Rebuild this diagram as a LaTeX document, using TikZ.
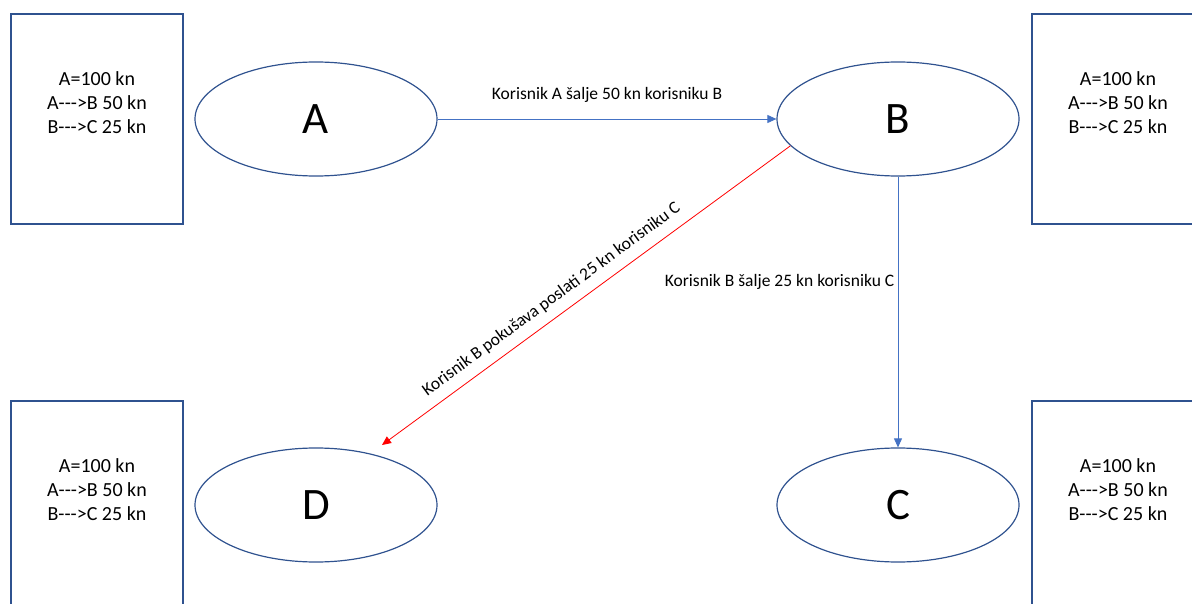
\documentclass[tikz,border=0pt]{standalone}
\usepackage{fontspec}
\setmainfont{Carlito}
\usepackage{tikz}
\usetikzlibrary{arrows.meta,shapes}
\definecolor{ledgerblue}{HTML}{2F528F}
\definecolor{arrowblue}{HTML}{4472C4}

\begin{document}
\begin{tikzpicture}
[x=1pt,y=-1pt]
\tikzset{
	user/.style = {ellipse, draw = ledgerblue, line width = 1.2pt, minimum width = 242pt, minimum height = 114pt, inner sep = 0, font = \fontsize{45}{54}\selectfont},
	ledger/.style = {rectangle, draw = ledgerblue, line width = 1.3pt, minimum width = 172pt, minimum height = 210pt, inner sep = 0},
	ledgertext/.style = {align = center, font = \fontsize{20}{24}\selectfont},
	send/.style = {draw = arrowblue, line width = 0.8pt, -{Triangle[length=9pt,width=8pt]}},
	fail/.style = {draw = red, line width = 0.8pt, -{Triangle[length=9pt,width=8pt]}},
	msg/.style = {font = \fontsize{17.5}{21}\selectfont}
}

\useasboundingbox (0,0) rectangle (1192,604);
\clip (0,0) rectangle (1192,604);

\node(ledgerA) [ledger] at (97,119) {};
\node(ledgerB) [ledger] at (1118,119) {};
\node(ledgerD) [ledger] at (97,506) {};
\node(ledgerC) [ledger] at (1118,506) {};

\node(textA) [ledgertext] at ([yshift=-89pt]ledgerA.north) {A=100 kn\\A-{}-{}->B 50 kn\\B-{}-{}->C 25 kn};
\node(textB) [ledgertext] at ([yshift=-89pt]ledgerB.north) {A=100 kn\\A-{}-{}->B 50 kn\\B-{}-{}->C 25 kn};
\node(textD) [ledgertext] at ([yshift=-89pt]ledgerD.north) {A=100 kn\\A-{}-{}->B 50 kn\\B-{}-{}->C 25 kn};
\node(textC) [ledgertext] at ([yshift=-89pt]ledgerC.north) {A=100 kn\\A-{}-{}->B 50 kn\\B-{}-{}->C 25 kn};

\node(A) [user] at (316,119) {A};
\node(B) [user] at (898,119) {B};
\node(D) [user] at (316,505) {D};
\node(C) [user] at (898,505) {C};

\coordinate (dtip) at (382,445);

\draw [send] (A) to node [msg, midway, above = 13pt]{Korisnik A šalje 50 kn korisniku B} (B);
\draw [send] (B) to node [msg, pos = 0.39, left]{Korisnik B šalje 25 kn korisniku C} (C);
\draw [fail] (B.194) to node [msg, pos = 0.56, sloped, above = 6pt]{Korisnik B pokušava poslati 25 kn korisniku C} (dtip);

\end{tikzpicture}
\end{document}
